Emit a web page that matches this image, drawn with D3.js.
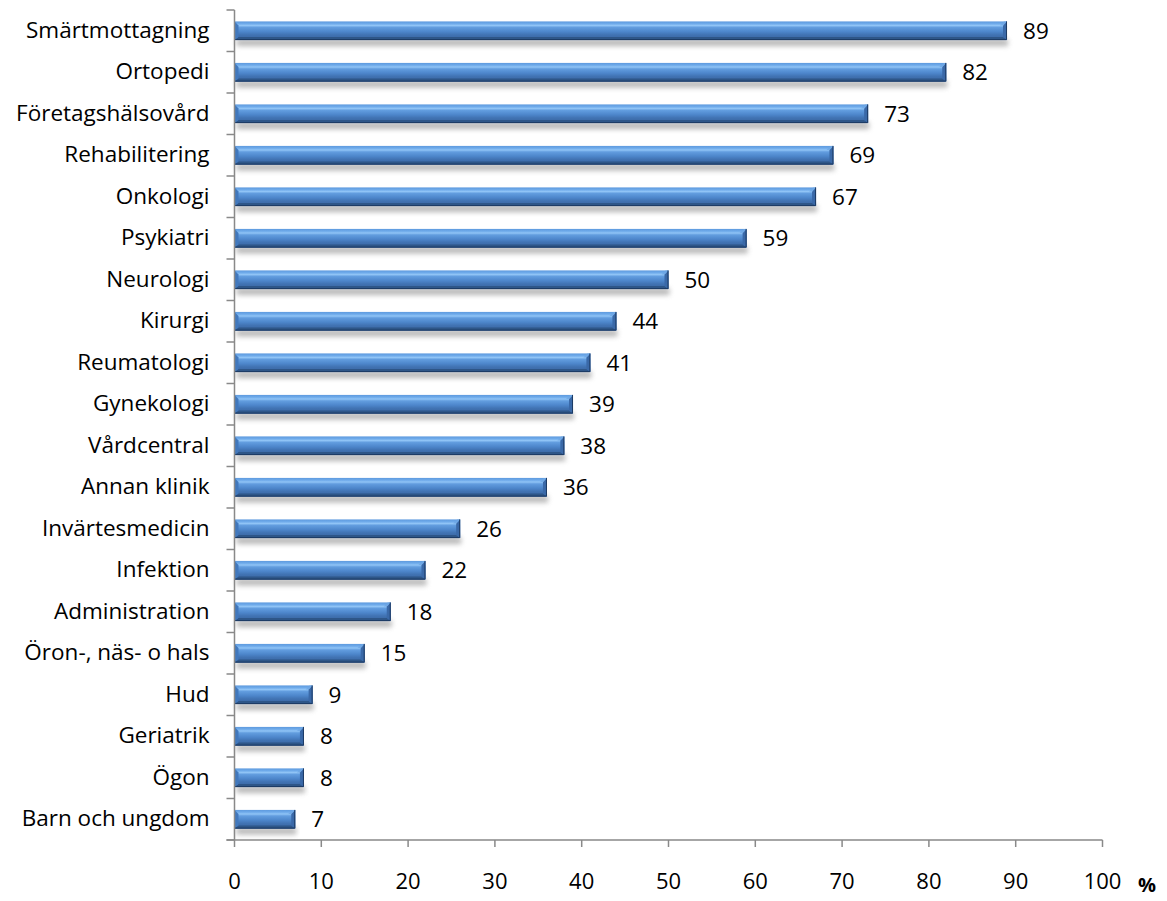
<!DOCTYPE html>
<html>
<head>
<meta charset="utf-8">
<script src="https://cdn.jsdelivr.net/npm/d3@7"></script>
<style>
  html, body { margin: 0; padding: 0; background: #fff; }
  svg { display: block; }
  text { font-family: "Open Sans", "Noto Sans", sans-serif; fill: #000; }
</style>
</head>
<body>
<svg id="chart" width="1167" height="901"></svg>
<script>
// Andel per verksamhet (%)
const categories = [
  "Smärtmottagning", "Ortopedi", "Företagshälsovård", "Rehabilitering", "Onkologi",
  "Psykiatri", "Neurologi", "Kirurgi", "Reumatologi", "Gynekologi",
  "Vårdcentral", "Annan klinik", "Invärtesmedicin", "Infektion", "Administration",
  "Öron-, näs- o hals", "Hud", "Geriatrik", "Ögon", "Barn och ungdom"
];
const values = [89, 82, 73, 69, 67, 59, 50, 44, 41, 39, 38, 36, 26, 22, 18, 15, 9, 8, 8, 7];
const xTicks = [0, 10, 20, 30, 40, 50, 60, 70, 80, 90, 100];
const unitLabel = "%";

const svg = d3.select("#chart");
const margin = { left: 234.5, right: 64.5, top: 10, bottom: 61 };
const W = 1167, H = 901;
const fontSize = 22.5;

const x = d3.scaleLinear().domain([0, 100]).range([margin.left, W - margin.right]);
const y = d3.scaleBand().domain(categories).range([margin.top, H - margin.bottom]).paddingInner(0.55).paddingOuter(0.275);
const band = d3.scaleBand().domain(categories).range([margin.top, H - margin.bottom]);

// gradients and shadow
const defs = svg.append("defs");
const g1 = defs.append("linearGradient").attr("id", "barBody").attr("x1", 0).attr("y1", 0).attr("x2", 0).attr("y2", 1);
[[0, "#5e9ade"], [0.12, "#6eaaea"], [0.22, "#90c4f6"], [0.32, "#629ddf"], [0.55, "#4d86cb"],
 [0.72, "#4173b3"], [1, "#38639e"]].forEach(([o, c]) =>
  g1.append("stop").attr("offset", o).attr("stop-color", c));
const shadow = defs.append("filter").attr("id", "shadow").attr("x", "-5%").attr("y", "-80%").attr("width", "110%").attr("height", "300%");
shadow.append("feGaussianBlur").attr("stdDeviation", 2.5);

const bars = svg.append("g");
const bh = y.bandwidth();
categories.forEach((c, i) => {
  const v = values[i];
  const x0 = x(0), x1 = x(v), y0 = y(c);
  const g = bars.append("g");
  const bv = 4;
  // soft shadow below bar
  g.append("rect").attr("x", x0 + 2).attr("y", y0 + bh - 1).attr("width", Math.max(0, x1 - x0 - 1)).attr("height", 7)
    .attr("fill", "#8c8c8c").attr("opacity", 0.6).attr("filter", "url(#shadow)");
  // body
  g.append("rect").attr("x", x0).attr("y", y0).attr("width", x1 - x0).attr("height", bh).attr("fill", "url(#barBody)");
  // bottom bevel shade
  g.append("path").attr("d", `M${x0},${y0 + bh}L${x1},${y0 + bh}L${x1 - bv},${y0 + bh - 3}L${x0 + bv},${y0 + bh - 3}Z`)
    .attr("fill", "#2e5688");
  // right bevel: lighter upper facet, darker face
  g.append("path").attr("d", `M${x1},${y0}L${x1},${y0 + bh}L${x1 - bv},${y0 + bh - 3}L${x1 - bv},${y0 + bv}Z`)
    .attr("fill", "#3a69a8");
  g.append("path").attr("d", `M${x1},${y0}L${x1 - bv},${y0 + bv}L${x1 - bv - 3},${y0 + bv}L${x1 - 3},${y0}Z`)
    .attr("fill", "#6ea6e4").attr("opacity", 0.8);
  // left bevel
  g.append("path").attr("d", `M${x0},${y0}L${x0 + bv},${y0 + bv}L${x0 + bv},${y0 + bh - 3}L${x0},${y0 + bh}Z`)
    .attr("fill", "#4178bd");
  // outline on right and bottom
  g.append("path").attr("d", `M${x1 - 0.5},${y0}L${x1 - 0.5},${y0 + bh - 0.5}L${x0},${y0 + bh - 0.5}`)
    .attr("fill", "none").attr("stroke", "#1d3a63").attr("stroke-width", 1);
  // value label
  svg.append("text").attr("x", x1 + 16).attr("y", y0 + bh / 2 + 2).attr("dominant-baseline", "middle")
    .attr("font-size", fontSize).text(v);
});

// y axis: category labels, boundary ticks
const axisColor = "#898989";
const yAxis = svg.append("g");
yAxis.append("line").attr("x1", margin.left).attr("x2", margin.left).attr("y1", margin.top).attr("y2", H - margin.bottom)
  .attr("stroke", axisColor).attr("stroke-width", 1.5);
const bounds = categories.map(c => band(c)).concat([H - margin.bottom]);
yAxis.selectAll("line.tick").data(bounds).join("line").attr("class", "tick")
  .attr("x1", margin.left - 8).attr("x2", margin.left).attr("y1", d => d).attr("y2", d => d)
  .attr("stroke", axisColor).attr("stroke-width", 1.5);
yAxis.selectAll("text").data(categories).join("text")
  .attr("x", margin.left - 25).attr("y", d => band(d) + band.bandwidth() / 2 + 1)
  .attr("text-anchor", "end").attr("dominant-baseline", "middle").attr("font-size", fontSize).text(d => d);

// x axis
const xAxis = svg.append("g");
const yb = H - margin.bottom;
xAxis.append("line").attr("x1", margin.left - 8).attr("x2", x(100)).attr("y1", yb).attr("y2", yb)
  .attr("stroke", axisColor).attr("stroke-width", 1.5);
xAxis.selectAll("line.tick").data(xTicks).join("line").attr("class", "tick")
  .attr("x1", d => x(d)).attr("x2", d => x(d)).attr("y1", yb).attr("y2", yb + 7)
  .attr("stroke", axisColor).attr("stroke-width", 1.5);
xAxis.selectAll("text").data(xTicks).join("text")
  .attr("x", d => x(d)).attr("y", yb + 43).attr("text-anchor", "middle").attr("dominant-baseline", "middle")
  .attr("font-size", fontSize - 0.5).text(d => d);
svg.append("text").attr("x", 1147).attr("y", yb + 47).attr("text-anchor", "middle").attr("dominant-baseline", "middle")
  .attr("font-size", fontSize - 2.5).attr("font-weight", "bold").text(unitLabel);
</script>
</body>
</html>
